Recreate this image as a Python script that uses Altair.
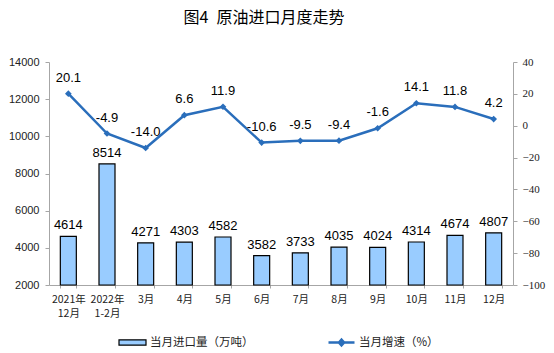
import altair as alt
import pandas as pd

categories = ["2021年|12月", "2022年|1-2月", "3月", "4月", "5月", "6月",
              "7月", "8月", "9月", "10月", "11月", "12月"]
imports = [4614, 8514, 4271, 4303, 4582, 3582, 3733, 4035, 4024, 4314, 4674, 4807]
growth = [20.1, -4.9, -14.0, 6.6, 11.9, -10.6, -9.5, -9.4, -1.6, 14.1, 11.8, 4.2]
left_ticks = [2000, 4000, 6000, 8000, 10000, 12000, 14000]
right_ticks = [-100, -80, -60, -40, -20, 0, 20, 40]
bar_name = "当月进口量（万吨）"
line_name = "当月增速（%）"
BASE = 2000

df = pd.DataFrame({
    "cat": categories,
    "imports": imports,
    "growth": growth,
    "s1": bar_name,
    "s2": line_name,
    "growth_lbl": [f"{v:.1f}" for v in growth],
})

BAR_FILL = "#99CCFF"
LINE_COL = "#2A6EBB"
AXIS_COL = "#A6A6A6"
CJK = "Noto Sans CJK SC"

x = alt.X("cat:N", sort=categories, title=None,
          scale=alt.Scale(paddingInner=0.58, paddingOuter=0.29),
          axis=alt.Axis(labelAngle=0, labelExpr="split(datum.label, '|')",
                        labelFont=CJK, labelFontSize=10.5, labelColor="#222",
                        labelPadding=6, tickBand="extent", tickSize=3,
                        domainColor=AXIS_COL, tickColor=AXIS_COL, labelLineHeight=14))

yl = alt.Y("imports:Q", title=None,
           scale=alt.Scale(domain=[2000, 14000], zero=False, nice=False),
           axis=alt.Axis(values=left_ticks, grid=False, format="d",
                         labelFont="Liberation Sans",
                         labelFontSize=11, labelColor="#222", tickSize=4,
                         labelPadding=6,
                         domainColor=AXIS_COL, tickColor=AXIS_COL))

bars = alt.Chart(df).mark_bar(size=16, stroke="black", strokeWidth=1.2).encode(
    x=x, y=yl, y2=alt.datum(BASE),
    fill=alt.Fill("s1:N", scale=alt.Scale(range=[BAR_FILL]),
                  legend=alt.Legend(title=None, orient="none", legendX=69, legendY=266,
                                    symbolType="M-1,-0.2H1V0.2H-1Z", symbolSize=729,
                                    symbolStrokeColor="black", symbolStrokeWidth=1.2,
                                    labelFont=CJK, labelFontSize=11.5, labelColor="#222",
                                    padding=0, labelOffset=3)),
)
bar_text = alt.Chart(df).mark_text(dy=-11, fontSize=13, font="Liberation Sans", color="black").encode(
    x=x, y=yl, text="imports:Q")
left_layer = alt.layer(bars, bar_text)

yr = alt.Y("growth:Q", title=None,
           scale=alt.Scale(domain=[-100, 40], nice=False),
           axis=alt.Axis(orient="right", values=right_ticks, grid=False,
                         labelFont="Liberation Serif", labelFontSize=11, labelColor="#222",
                         tickSize=4, labelPadding=5,
                         domainColor=AXIS_COL, tickColor=AXIS_COL))

line = alt.Chart(df).mark_line(strokeWidth=2.5).encode(
    x=x, y=yr,
    stroke=alt.Stroke("s2:N", scale=alt.Scale(range=[LINE_COL]),
                      legend=alt.Legend(title=None, orient="none", legendX=278, legendY=266,
                                        symbolType="M-1,0H1M-0.2,0L0,-0.22L0.2,0L0,0.22Z",
                                        symbolSize=676, symbolStrokeWidth=2.5,
                                        symbolFillColor=LINE_COL,
                                        labelFont=CJK, labelFontSize=11.5, labelColor="#222",
                                        padding=0, labelOffset=3)),
)
points = alt.Chart(df).mark_point(shape="diamond", filled=True, size=45, color=LINE_COL, opacity=1).encode(
    x=x, y=yr)
line_text = alt.Chart(df).mark_text(dy=-16, fontSize=13, font="Liberation Sans", color="black").encode(
    x=x, y=yr, text="growth_lbl:N")
right_layer = alt.layer(line, points, line_text)

chart = alt.layer(left_layer, right_layer).resolve_scale(
    y="independent", fill="independent", stroke="independent"
).properties(
    width=464, height=223,
    autosize=alt.AutoSizeParams(type="none"),
    padding={"left": 49, "top": 62, "right": 41, "bottom": 68},
    title=alt.TitleParams("图4\u2002原油进口月度走势", font=CJK, fontSize=16, fontWeight="normal",
                          anchor="middle", offset=30, dx=-17, color="#000"),
).configure_view(stroke=None).configure_axis(labelFontWeight="normal")

chart.save("out.html", embed_options={"renderer": "svg", "actions": False})
